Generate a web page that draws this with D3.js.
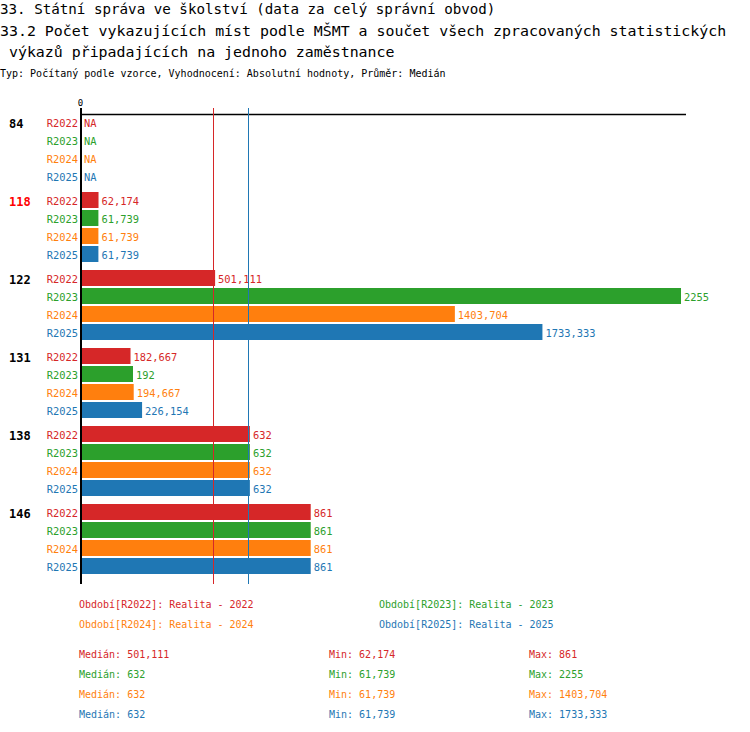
<!DOCTYPE html>
<html>
<head>
<meta charset="utf-8">
<script src="https://cdn.jsdelivr.net/npm/d3@7"></script>
<style>
  body { margin: 0; background: #fff; }
  text { font-family: "DejaVu Sans Mono", monospace; }
</style>
</head>
<body>
<script>
// data
var categories = ["84", "118", "122", "131", "138", "146"]
var highlighted = "118"
var seriesNames = ["R2022", "R2023", "R2024", "R2025"]
var seriesLabels = ["Realita - 2022", "Realita - 2023", "Realita - 2024", "Realita - 2025"]
var valsR2022 = [null, 62.174, 501.111, 182.667, 632, 861]
var valsR2023 = [null, 61.739, 2255, 192, 632, 861]
var valsR2024 = [null, 61.739, 1403.704, 194.667, 632, 861]
var valsR2025 = [null, 61.739, 1733.333, 226.154, 632, 861]
var colors = ["#d62728", "#2ca02c", "#ff7f0e", "#1f77b4"]

var allVals = [valsR2022, valsR2023, valsR2024, valsR2025]

var cz = d3.formatLocale({decimal: ",", thousands: " ", grouping: [3], currency: ["", " Kč"]})
var fmt = cz.format(".3~f")

var svg = d3.select("body")
            .append("svg")
            .attr("width", 750)
            .attr("height", 732)

// titles
svg.append("text").attr("x", 0).attr("y", 14).attr("font-size", 14.2)
   .text("33. Státní správa ve školství (data za celý správní obvod)")
svg.append("text").attr("x", 0).attr("y", 36).attr("font-size", 14.9)
   .text("33.2 Počet vykazujících míst podle MŠMT a součet všech zpracovaných statistických")
svg.append("text").attr("x", 0).attr("y", 57).attr("font-size", 14.9).attr("xml:space", "preserve")
   .text(" výkazů připadajících na jednoho zaměstnance")
svg.append("text").attr("x", 0).attr("y", 77).attr("font-size", 10)
   .text("Typ: Počítaný podle vzorce, Vyhodnocení: Absolutní hodnoty, Průměr: Medián")

var x = d3.scaleLinear().domain([0, d3.max(allVals.flat())]).range([82, 681])

var plotTop = 114, rowH = 18, barH = 16, groupGap = 6
var groupH = seriesNames.length * rowH + groupGap
var y = d3.scaleBand().domain(categories).range([plotTop, plotTop + categories.length * groupH])
var yRow = d3.scaleBand().domain(seriesNames).range([0, seriesNames.length * rowH])

// axis frame
svg.append("line").attr("x1", 80).attr("x2", 686).attr("y1", plotTop + 0.5).attr("y2", plotTop + 0.5)
   .attr("stroke", "#000").attr("stroke-width", 1.5)
svg.append("text").attr("x", 80.5).attr("y", 106).attr("font-size", 9).attr("text-anchor", "middle").text("0")

var groups = svg.selectAll("g.cat")
  .data(categories)
  .enter().append("g")
  .attr("class", "cat")
  .attr("transform", d => "translate(0," + y(d) + ")")

groups.append("text")
  .attr("x", 9)
  .attr("y", yRow("R2022") + rowH / 2 + 5)
  .attr("font-size", 12)
  .attr("font-weight", "bold")
  .attr("fill", d => d == highlighted ? "#ff0000" : "#000")
  .text(d => d)

groups.each(function(cat, ci) {
  var g = d3.select(this)
  seriesNames.forEach((s, si) => {
    var v = allVals[si][ci]
    var yy = yRow(s)
    g.append("text")
     .attr("x", 78).attr("y", yy + barH / 2 + 5)
     .attr("font-size", 10.4).attr("text-anchor", "end")
     .attr("fill", colors[si]).text(s)
    if (v == null) {
      g.append("text")
       .attr("x", 84).attr("y", yy + barH / 2 + 5)
       .attr("font-size", 10.4).attr("fill", colors[si]).text("NA")
      return
    }
    g.append("rect")
     .attr("x", x(0)).attr("y", yy)
     .attr("width", x(v) - x(0)).attr("height", barH)
     .attr("fill", colors[si])
    g.append("text")
     .attr("x", x(v) + 3).attr("y", yy + barH / 2 + 5)
     .attr("font-size", 10.4).attr("fill", colors[si]).text(fmt(v))
  })
})

// median lines
var axisBottom = plotTop + categories.length * groupH - groupGap + 8
allVals.forEach((vals, si) => {
  var m = d3.median(vals.filter(v => v != null))
  var mx = Math.round(x(m)) - 1.5
  svg.append("line")
     .attr("x1", mx).attr("x2", mx)
     .attr("y1", 108).attr("y2", axisBottom)
     .attr("stroke", colors[si]).attr("stroke-width", 1)
     .attr("shape-rendering", "crispEdges")
})

svg.append("line").attr("x1", 81).attr("x2", 81).attr("y1", 108).attr("y2", axisBottom)
   .attr("stroke", "#000").attr("stroke-width", 2)

// legend
seriesNames.forEach((s, i) => {
  svg.append("text")
     .attr("x", i % 2 == 0 ? 79 : 379)
     .attr("y", 608 + Math.floor(i / 2) * 20)
     .attr("font-size", 10).attr("fill", colors[i])
     .text("Období[" + s + "]: " + seriesLabels[i])
})

// stats
allVals.forEach((vals, i) => {
  var ok = vals.filter(v => v != null)
  var yy = 658 + i * 20
  svg.append("text").attr("x", 79).attr("y", yy).attr("font-size", 10).attr("fill", colors[i])
     .text("Medián: " + fmt(d3.median(ok)))
  svg.append("text").attr("x", 329).attr("y", yy).attr("font-size", 10).attr("fill", colors[i])
     .text("Min: " + fmt(d3.min(ok)))
  svg.append("text").attr("x", 529).attr("y", yy).attr("font-size", 10).attr("fill", colors[i])
     .text("Max: " + fmt(d3.max(ok)))
})
</script>
</body>
</html>
